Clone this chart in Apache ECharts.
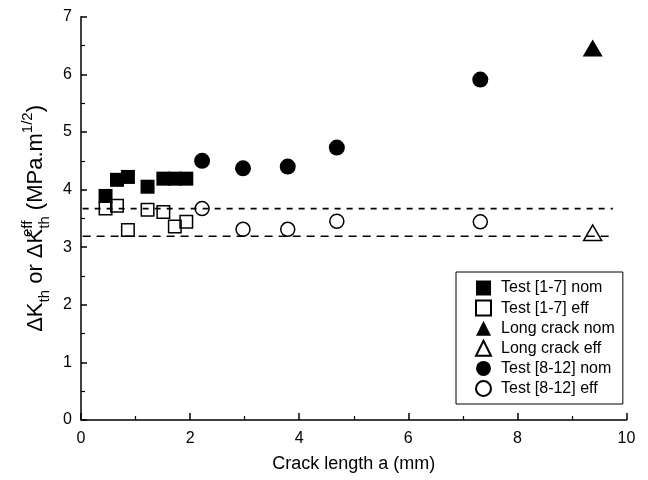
<!DOCTYPE html>
<html>
<head>
<meta charset="utf-8">
<script src="https://cdn.jsdelivr.net/npm/echarts@6/dist/echarts.min.js"></script>
<style>html,body{margin:0;padding:0;background:#fff}#c{width:648px;height:480px}</style>
</head>
<body>
<div id="c"></div>
<script>
// Data
const test17X = [0.45, 0.66, 0.86, 1.22, 1.51, 1.72, 1.93];
const test17Nom = [3.89, 4.17, 4.22, 4.05, 4.19, 4.19, 4.19];
const test17Eff = [3.67, 3.72, 3.30, 3.65, 3.61, 3.36, 3.44];
const longCrackX = [9.38];
const longCrackNom = [6.46];
const longCrackEff = [3.25];
const test812X = [2.22, 2.97, 3.79, 4.69, 7.32];
const test812Nom = [4.50, 4.37, 4.40, 4.73, 5.91];
const test812Eff = [3.67, 3.31, 3.31, 3.45, 3.44];
const refLineX = [0.03, 9.75];
const refUpper = [3.67, 3.67];
const refLower = [3.19, 3.19];
const xTicks = [0, 2, 4, 6, 8, 10];
const yTicks = [0, 1, 2, 3, 4, 5, 6, 7];
const legendNames = ['Test [1-7] nom', 'Test [1-7] eff', 'Long crack nom', 'Long crack eff', 'Test [8-12] nom', 'Test [8-12] eff'];

const zip = (xs, ys) => xs.map((x, i) => [x, ys[i]]);
const FONT = 'Liberation Sans';
const chart = echarts.init(document.getElementById('c'), null, {renderer: 'canvas'});

const filled = {color: '#000', opacity: 1};
const hollow = {color: 'rgba(255,255,255,0)', borderColor: '#000', borderWidth: 1.5, opacity: 1};

chart.setOption({
  animation: false,
  backgroundColor: '#fff',
  grid: {left: 81, right: 21.5, top: 16.8, bottom: 60, containLabel: false},
  xAxis: {
    type: 'value', min: xTicks[0], max: xTicks[xTicks.length - 1], interval: 2,
    name: 'Crack length a (mm)', nameLocation: 'middle', nameGap: 35,
    nameTextStyle: {fontFamily: FONT, fontSize: 18, color: '#000'},
    axisLine: {lineStyle: {color: '#000', width: 1.5}},
    axisTick: {inside: true, length: 7, lineStyle: {color: '#000', width: 1.5}},
    minorTick: {show: true, splitNumber: 2, length: 4, lineStyle: {color: '#000', width: 1.2}},
    axisLabel: {fontFamily: FONT, fontSize: 16, color: '#000', margin: 11},
    splitLine: {show: false}
  },
  yAxis: {
    type: 'value', min: yTicks[0], max: yTicks[yTicks.length - 1], interval: 1,
    name: '{m|ΔK}{sub|th}{m| or ΔK}{sup0|eff}{sub|th}{m| (MPa.m}{sup|1/2}{m|)}',
    nameLocation: 'middle', nameGap: 25, nameRotate: 90,
    nameTextStyle: {
      fontFamily: FONT, fontSize: 22, color: '#000',
      rich: {
        m: {fontFamily: FONT, fontSize: 22, lineHeight: 32, color: '#000'},
        sub: {fontFamily: FONT, fontSize: 15, lineHeight: 15, verticalAlign: 'bottom', color: '#000'},
        sup: {fontFamily: FONT, fontSize: 15, lineHeight: 15, verticalAlign: 'top', color: '#000'},
        sup0: {fontFamily: FONT, fontSize: 15, lineHeight: 15, verticalAlign: 'top', width: 0.01, color: '#000'}
      }
    },
    axisLine: {lineStyle: {color: '#000', width: 1.5}},
    axisTick: {inside: true, length: 6, lineStyle: {color: '#000', width: 1.5}},
    minorTick: {show: true, splitNumber: 2, length: 4, lineStyle: {color: '#000', width: 1.2}},
    axisLabel: {fontFamily: FONT, fontSize: 16, color: '#000', margin: 9},
    splitLine: {show: false}
  },
  legend: {
    orient: 'vertical', left: 456, top: 272,
    data: legendNames,
    itemWidth: 15, itemHeight: 15, itemGap: 3.6,
    padding: [8, 8, 7, 19],
    borderColor: '#000', borderWidth: 1,
    textStyle: {fontFamily: FONT, fontSize: 16, lineHeight: 16, color: '#000', padding: [0, 0, 0, 5]}
  },
  series: [
    {type: 'line', data: zip(refLineX, refUpper), symbol: 'none', silent: true, z: 3,
     lineStyle: {color: '#000', width: 1.6, type: [6, 6]}},
    {type: 'line', data: zip(refLineX, refLower), symbol: 'none', silent: true, z: 3,
     lineStyle: {color: '#000', width: 1.6, type: [8, 6]}},
    {name: legendNames[0], type: 'scatter', symbol: 'rect', symbolSize: 14, data: zip(test17X, test17Nom), itemStyle: filled, z: 2},
    {name: legendNames[1], type: 'scatter', symbol: 'rect', symbolSize: 12.5, data: zip(test17X, test17Eff), itemStyle: hollow, z: 4},
    {name: legendNames[2], type: 'scatter', symbol: 'triangle', symbolSize: [20, 17], data: zip(longCrackX, longCrackNom), itemStyle: filled, z: 2},
    {name: legendNames[3], type: 'scatter', symbol: 'triangle', symbolSize: [18, 15.5], data: zip(longCrackX, longCrackEff), itemStyle: hollow, z: 4},
    {name: legendNames[4], type: 'scatter', symbol: 'circle', symbolSize: 16, data: zip(test812X, test812Nom), itemStyle: filled, z: 2},
    {name: legendNames[5], type: 'scatter', symbol: 'circle', symbolSize: 14, data: zip(test812X, test812Eff), itemStyle: hollow, z: 4}
  ]
});
</script>
</body>
</html>
